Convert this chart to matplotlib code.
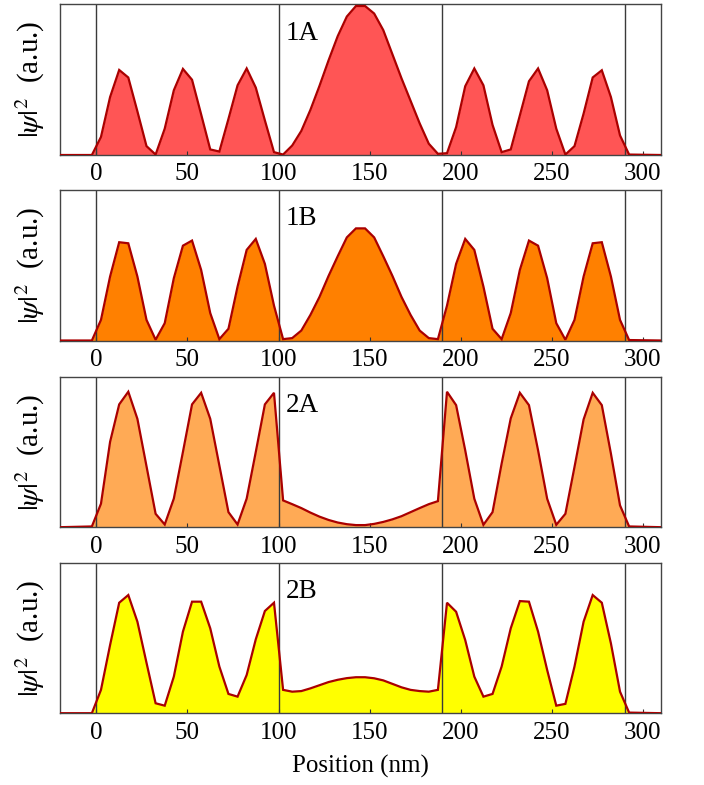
import matplotlib
matplotlib.use("Agg")
import matplotlib.pyplot as plt

plt.rcParams['font.family'] = ['Liberation Serif', 'DejaVu Serif']
plt.rcParams['mathtext.fontset'] = 'stix'

position = [-20, -2.5, 2.5, 7.5, 12.5, 17.5, 22.5, 27.5, 32.5, 37.5, 42.5, 47.5, 52.5, 57.5,
            62.5, 67.5, 72.5, 77.5, 82.5, 87.5, 92.5, 97.5, 102.5, 107.5, 112.5, 117.5,
            122.5, 127.5, 132.5, 137.5, 142.5, 147.5, 152.5, 157.5, 162.5, 167.5, 172.5,
            177.5, 182.5, 187.5, 192.5, 197.5, 202.5, 207.5, 212.5, 217.5, 222.5, 227.5,
            232.5, 237.5, 242.5, 247.5, 252.5, 257.5, 262.5, 267.5, 272.5, 277.5, 282.5,
            287.5, 292.5, 310]

psi_1A = [0, 0, 0.12, 0.385, 0.565, 0.515, 0.29, 0.059, 0.003, 0.175, 0.43, 0.572, 0.50, 0.27,
          0.037, 0.023, 0.24, 0.463, 0.575, 0.448, 0.23, 0.019, 0.003, 0.063, 0.16, 0.30,
          0.46, 0.63, 0.79, 0.92, 0.99, 0.99, 0.94, 0.83, 0.67, 0.51, 0.36,
          0.21, 0.075, 0.008, 0.012, 0.185, 0.457, 0.575, 0.463, 0.20, 0.019, 0.037,
          0.263, 0.49, 0.575, 0.43, 0.175, 0.003, 0.059, 0.275, 0.515, 0.563, 0.385,
          0.13, 0.003, 0]

psi_1B = [0, 0, 0.137, 0.425, 0.653, 0.646, 0.425, 0.137, 0.005, 0.115, 0.414, 0.63, 0.664, 0.469,
          0.182, 0.009, 0.078, 0.358, 0.602, 0.675, 0.509, 0.232, 0.009, 0.016, 0.066, 0.17,
          0.29, 0.43, 0.56, 0.685, 0.745, 0.745, 0.685, 0.56, 0.43, 0.29, 0.17,
          0.066, 0.016, 0.009, 0.232, 0.509, 0.675, 0.602, 0.358, 0.078, 0.009, 0.182,
          0.469, 0.664, 0.63, 0.414, 0.115, 0.005, 0.137, 0.425, 0.646, 0.653, 0.425,
          0.137, 0.003, 0]

psi_2A = [0, 0.005, 0.156, 0.567, 0.816, 0.90, 0.72, 0.405, 0.089, 0.018, 0.19, 0.50, 0.816, 0.893,
          0.72, 0.41, 0.10, 0.018, 0.19, 0.50, 0.816, 0.893, 0.178, 0.153, 0.127, 0.097,
          0.07, 0.048, 0.031, 0.02, 0.014, 0.014, 0.022, 0.035, 0.052, 0.073, 0.1,
          0.127, 0.153, 0.173, 0.90, 0.811, 0.511, 0.189, 0.016, 0.10, 0.423, 0.723,
          0.893, 0.811, 0.511, 0.189, 0.016, 0.089, 0.40, 0.716, 0.893, 0.811, 0.489,
          0.145, 0.005, 0]

psi_2B = [0, 0, 0.155, 0.453, 0.734, 0.785, 0.608, 0.335, 0.066, 0.05, 0.243, 0.542, 0.741, 0.741,
          0.564, 0.31, 0.128, 0.11, 0.254, 0.491, 0.679, 0.734, 0.155, 0.143, 0.147, 0.165,
          0.186, 0.207, 0.222, 0.233, 0.239, 0.239, 0.232, 0.218, 0.195, 0.172, 0.155,
          0.147, 0.143, 0.155, 0.734, 0.674, 0.486, 0.243, 0.11, 0.128, 0.31, 0.564,
          0.745, 0.741, 0.542, 0.287, 0.05, 0.062, 0.31, 0.608, 0.785, 0.734, 0.464,
          0.143, 0.004, 0]

panel_labels = ['1A', '1B', '2A', '2B']
fill_colors = ['#FF5555', '#FF8000', '#FFAA55', '#FFFF00']
boundaries = [0, 100, 190, 290]
xticks = [0, 50, 100, 150, 200, 250, 300]

series = [psi_1A, psi_1B, psi_2A, psi_2B]

fig = plt.figure(figsize=(7.04, 7.85), dpi=100)
W, H = 704, 785
left_px, right_px = 60, 661
panel_tops = [4.5, 190, 376.7, 562.7]
panel_h = 150.5

for i, (vals, lab, col) in enumerate(zip(series, panel_labels, fill_colors)):
    top = panel_tops[i]
    ax = fig.add_axes([left_px / W, 1 - (top + panel_h) / H,
                       (right_px - left_px) / W, panel_h / H])
    ax.fill_between(position, 0, vals, color=col, lw=0, zorder=1)
    for b in boundaries:
        ax.axvline(b, color='#3a3a3a', lw=1.0, zorder=2)
    ax.plot(position, vals, color='#AA0000', lw=1.6, zorder=3, solid_joinstyle='miter')
    ax.set_xlim(-20, 310)
    ax.set_ylim(0, 1.0)
    ax.set_yticks([])
    ax.set_xticks(xticks)
    ax.set_xticklabels([str(t) for t in xticks])
    ax.tick_params(axis='x', direction='in', length=3, width=0.8, color='#333333',
                   labelsize=18, pad=6)
    for s in ax.spines.values():
        s.set_color('#444444')
        s.set_linewidth(1.0)
    ax.text(104, 0.81, lab, fontsize=19.5, ha='left', va='center', zorder=4)
    ax.set_ylabel(r'$|\psi|^2$  (a.u.)', fontsize=21, labelpad=9)
    if i == 3:
        ax.set_xlabel('Position (nm)', fontsize=18, labelpad=8)

fig.savefig('out.png', dpi=100)
